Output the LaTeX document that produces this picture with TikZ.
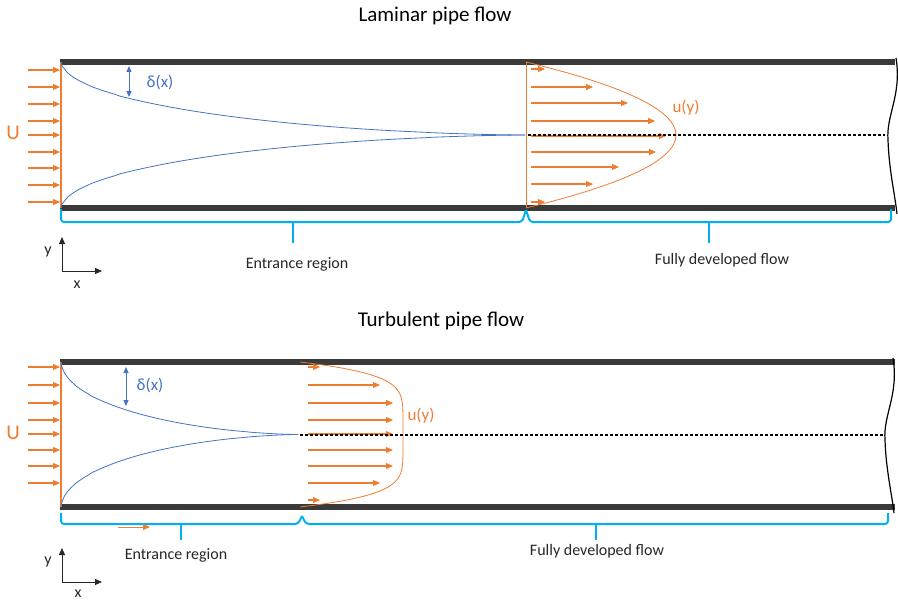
\documentclass[tikz,border=0pt]{standalone}
\usepackage{fontspec}
\setmainfont{Carlito}
\usepackage{tikz}
\usetikzlibrary{arrows.meta, positioning}
\usepackage{xcolor}
\definecolor{flow}{HTML}{ED7D31}
\definecolor{layer}{HTML}{4472C4}
\definecolor{region}{HTML}{00B0F0}
\definecolor{wall}{HTML}{3A3A3A}
\definecolor{ink}{HTML}{262626}
\tikzset{%
	pipe wall/.style={
		wall,
		line width=5.5pt
	},
	flow arrow/.style={
		flow,
		line width=1.1pt,
		-{Triangle[length=7pt,width=6pt]}
	},
	layer line/.style={
		layer,
		line width=0.8pt
	},
	region brace/.style={
		region,
		line width=2pt,
		rounded corners=3pt
	},
	center line/.style={
		black,
		line width=2.6pt,
		dash pattern=on 2.6pt off 2.4pt
	},
	axis arrow/.style={
		ink,
		line width=1pt,
		-{Triangle[length=7pt,width=6pt]}
	},
	label text/.style={
		ink,
		inner sep=0pt,
		font=\fontsize{16}{18}\selectfont
	},
	title text/.style={
		black,
		inner sep=0pt,
		font=\fontsize{21}{24}\selectfont
	},
}

\begin{document}
\begin{tikzpicture}[x=1pt, y=-1pt]
	\useasboundingbox (0,0) rectangle (898,602);

	% ---------- Laminar pipe flow ----------
	\node[title text] (laminar) at (435,16) {Laminar pipe flow};

	% Draw the pipe walls and the break at the right end
	\draw[pipe wall] (60,62) -- (895,62);
	\draw[pipe wall] (60,208) -- (895,208);
	\draw[black, line width=1.2pt] (896,58) .. controls (902,95) and (886,115) .. (888,140)
		.. controls (889,170) and (895,195) .. (897,214);

	% Draw the inlet velocity
	\draw[flow, line width=1.5pt] (61,62) -- (61,208);
	\foreach \yy in {70,87,104,121,135,152,168,185,202}
		\draw[flow arrow] (28,\yy) -- (60,\yy);
	\node[flow, inner sep=0pt, font=\fontsize{21}{24}\selectfont] (U1) at (13,133) {U};

	% Draw the boundary layers
	\draw[layer line] (61,62) -- plot[domain=0.002:0.998, samples=80]
		({61+464*\x}, {62+73*(1-(1-\x^0.55)^1.6)}) -- (525,135);
	\draw[layer line] (61,208) -- plot[domain=0.002:0.998, samples=80]
		({61+464*\x}, {208-73*(1-(1-\x^0.55)^1.6)}) -- (525,135);
	\coordinate (d1top) at (129,66);
	\coordinate (d1bot) at (129,97);
	\draw[layer, line width=1pt, {Triangle[length=6pt,width=5pt]}-{Triangle[length=6pt,width=5pt]}] (d1top) -- (d1bot);
	\node[label text, layer, font=\fontsize{17}{19}\selectfont] (delta1) at (160,82) {δ(x)};

	% Draw the parabolic profile
	\draw[flow, line width=1pt] (526,62) -- (526,208);
	\draw[flow, line width=0.8pt] (526,62) .. controls (726,110.7) and (726,159.3) .. (526,208);
	\foreach \yy/\xe in {69/545, 87/593, 103/628, 121/655, 136/666, 152/656, 167/619, 184/593, 202/545}
		\draw[flow arrow] (531,\yy) -- (\xe,\yy);
	\draw[center line] (528,135) -- (885,135);
	\node[label text, flow, font=\fontsize{17}{19}\selectfont] (u1) at (686,108) {u(y)};

	% Draw the braces
	\draw[region brace] (61,209) -- (61,222) -- (522,222) -- (526,210);
	\draw[region brace] (526,210) -- (530,222) -- (891,222) -- (891,209);
	\draw[region brace] (293,222) -- (293,243);
	\draw[region brace] (709,222) -- (709,243);
	\node[label text] (entrance1) at (297,264) {Entrance region};
	\node[label text] (developed1) at (722,260) {Fully developed flow};

	% Draw the axes
	\coordinate (o1) at (62,271);
	\coordinate (ytip1) at (62,237);
	\coordinate (xtip1) at (102,271);
	\draw[axis arrow] (o1) -- (ytip1);
	\draw[axis arrow] (o1) -- (xtip1);
	\node[label text] (ylab1) at (48,252) {y};
	\node[label text] (xlab1) at (77,285) {x};

	% ---------- Turbulent pipe flow ----------
	\node[title text] (turbulent) at (441,321) {Turbulent pipe flow};

	% Draw the pipe walls and the break at the right end
	\draw[pipe wall] (60,362) -- (895,362);
	\draw[pipe wall] (60,507) -- (895,507);
	\draw[black, line width=1.2pt] (893,358) .. controls (899,395) and (883,415) .. (885,440)
		.. controls (886,470) and (892,495) .. (894,513);

	% Draw the inlet velocity
	\draw[flow, line width=1.5pt] (61,362) -- (61,507);
	\foreach \yy in {367,385,403,420,434,450,466,483}
		\draw[flow arrow] (28,\yy) -- (60,\yy);
	\node[flow, inner sep=0pt, font=\fontsize{21}{24}\selectfont] (U2) at (13,433) {U};

	% Draw the boundary layers
	\draw[layer line] (61,362) -- plot[domain=0.002:0.998, samples=80]
		({61+237*\x}, {362+72.5*(1-(1-\x^0.55)^1.6)}) -- (298,434.5);
	\draw[layer line] (61,507) -- plot[domain=0.002:0.998, samples=80]
		({61+237*\x}, {507-72.5*(1-(1-\x^0.55)^1.6)}) -- (298,434.5);
	\coordinate (d2top) at (126,367);
	\coordinate (d2bot) at (126,406);
	\draw[layer, line width=1pt, {Triangle[length=6pt,width=5pt]}-{Triangle[length=6pt,width=5pt]}] (d2top) -- (d2bot);
	\node[label text, layer, font=\fontsize{17}{19}\selectfont] (delta2) at (150,385) {δ(x)};

	% Draw the flat profile
	\draw[flow, line width=0.8pt] plot[domain=-1:1, samples=80]
		({300+103*(1-(\x*\x)^3)}, {434.5+72.5*\x});
	\foreach \yy/\xe in {367/320, 385/380, 403/393, 420/393, 434/393, 450/393, 466/393, 483/380, 500/320}
		\draw[flow arrow] (308,\yy) -- (\xe,\yy);
	\draw[center line] (300,435) -- (885,435);
	\node[label text, flow, font=\fontsize{17}{19}\selectfont] (u2) at (421,416) {u(y)};

	% Draw the braces
	\draw[region brace] (61,513) -- (61,524) -- (298,524) -- (302,516);
	\draw[region brace] (302,516) -- (306,524) -- (888,524) -- (888,513);
	\draw[region brace] (181,524) -- (181,540);
	\draw[region brace] (596,524) -- (596,540);
	\draw[flow arrow, line width=1pt] (118,527) -- (150,527);
	\node[label text] (entrance2) at (176,555) {Entrance region};
	\node[label text] (developed2) at (597,551) {Fully developed flow};

	% Draw the axes
	\coordinate (o2) at (62,582);
	\coordinate (ytip2) at (62,548);
	\coordinate (xtip2) at (102,582);
	\draw[axis arrow] (o2) -- (ytip2);
	\draw[axis arrow] (o2) -- (xtip2);
	\node[label text] (ylab2) at (48,562) {y};
	\node[label text] (xlab2) at (78,594) {x};
\end{tikzpicture}
\end{document}
